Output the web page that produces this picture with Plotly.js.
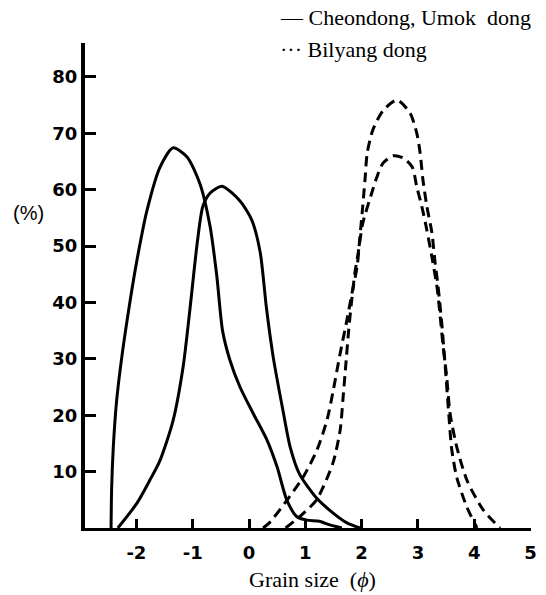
<!DOCTYPE html>
<html>
<head>
<meta charset="utf-8">
<script src="https://cdn.plot.ly/plotly-3.0.1.min.js"></script>
<style>html,body{margin:0;padding:0;background:#fff;}</style>
</head>
<body>
<div id="chart" style="width:546px;height:595px;"></div>
<script>
// Cheondong / Umok dong (solid) — two samples
const cheondongX = [-2.45, -2.44, -2.41, -2.35, -2.25, -2.11, -1.99, -1.81, -1.58, -1.35, -1.1, -0.87, -0.69, -0.57, -0.47, -0.34, -0.16, 0.07, 0.32, 0.5, 0.67, 0.85, 1.03, 1.25, 1.45, 1.65];
const cheondongY = [0, 7, 14.4, 22.7, 31, 40.4, 47.5, 56.4, 64, 67.4, 65.8, 61, 53.4, 44.5, 35, 29.8, 25, 20.4, 15.6, 10.8, 5, 2, 1.4, 1.2, 0.5, 0];
const umokX = [-2.33, -1.99, -1.76, -1.58, -1.35, -1.17, -1.05, -0.92, -0.82, -0.69, -0.48, -0.16, 0.05, 0.2, 0.31, 0.43, 0.6, 0.73, 0.9, 1.2, 1.5, 1.74, 1.97];
const umokY = [0, 4.4, 8.5, 12, 19, 28.6, 38.7, 50.5, 57, 59.4, 60.6, 58, 54.6, 48.8, 39, 30.3, 21, 14.4, 9.5, 5.3, 2.6, 0.9, 0];
// Bilyang dong (dashed) — two samples
const bilyangAX = [0.25, 0.37, 0.68, 0.96, 1.21, 1.39, 1.5, 1.62, 1.74, 1.83, 1.92, 1.97, 2.02, 2.06, 2.1, 2.2, 2.38, 2.63, 2.86, 2.98, 3.04, 3.09, 3.16, 3.25, 3.3, 3.36, 3.43, 3.49, 3.55, 3.6, 3.69, 3.87, 4.05];
const bilyangAY = [0, 1, 5, 9, 13.9, 19.3, 24.6, 31, 36.9, 41.7, 46.3, 51.6, 57, 61.7, 66.5, 70.6, 74, 75.9, 73.6, 70, 66.5, 61.7, 57, 52.3, 47.5, 42.7, 35.6, 28, 20, 14, 9, 3.7, 0];
const bilyangBX = [0.65, 0.9, 1.2, 1.49, 1.62, 1.67, 1.72, 1.77, 1.82, 1.88, 1.94, 2.02, 2.18, 2.27, 2.38, 2.56, 2.74, 2.9, 2.98, 3.07, 3.16, 3.25, 3.34, 3.39, 3.45, 3.51, 3.57, 3.69, 3.87, 4.16, 4.46];
const bilyangBY = [0, 2, 5, 11.5, 17.4, 23, 29, 35, 40, 45.2, 48.8, 54, 59.4, 62.2, 64.7, 66, 65.6, 64, 60.5, 57, 52.8, 48, 42.7, 38.1, 32, 27, 20.4, 14.4, 8.5, 3.2, 0];

const xTicks = [-2, -1, 0, 1, 2, 3, 4, 5];
const xTickText = ["-2", "-1", "0", "1", "2", "3", "4", "5"];
const yTicks = [10, 20, 30, 40, 50, 60, 70, 80];
const yTickText = ["10", "20", "30", "40", "50", "60", "70", "80"];

const solid = {color: '#000', width: 3, shape: 'spline', smoothing: 0.7};
const dashed = {color: '#000', width: 3, shape: 'spline', smoothing: 0.7, dash: '10px,6px'};

const traces = [
  {x: cheondongX, y: cheondongY, mode: 'lines', line: solid, hoverinfo: 'skip'},
  {x: umokX, y: umokY, mode: 'lines', line: solid, hoverinfo: 'skip'},
  {x: bilyangAX, y: bilyangAY, mode: 'lines', line: dashed, hoverinfo: 'skip'},
  {x: bilyangBX, y: bilyangBY, mode: 'lines', line: dashed, hoverinfo: 'skip'}
];

const tickFont = {family: 'DejaVu Sans', size: 18, color: '#000', weight: 'bold'};
const serif = {family: '"Liberation Serif", "DejaVu Serif", serif', size: 22, color: '#000'};

const layout = {
  width: 546, height: 595,
  margin: {l: 85, r: 15, t: 43, b: 67},
  paper_bgcolor: '#fff', plot_bgcolor: '#fff',
  showlegend: false,
  xaxis: {
    range: [-2.913, 5.009], showgrid: false, zeroline: false,
    showline: true, linecolor: '#000', linewidth: 3,
    ticks: 'inside', ticklen: 9, tickwidth: 3, tickcolor: '#000',
    tickvals: xTicks, ticktext: xTickText, tickfont: tickFont,
    ticklabelstandoff: 6
  },
  yaxis: {
    range: [0, 86], showgrid: false, zeroline: false,
    showline: true, linecolor: '#000', linewidth: 4,
    ticks: 'inside', ticklen: 11, tickwidth: 3, tickcolor: '#000',
    tickvals: yTicks, ticktext: yTickText, tickfont: tickFont,
    ticklabelstandoff: 0
  },
  annotations: [
    {xref: 'paper', yref: 'paper', x: 0.4327, y: 1.0536, xanchor: 'left', yanchor: 'middle',
     text: '— Cheondong, Umok  dong', showarrow: false, font: serif},
    {xref: 'paper', yref: 'paper', x: 0.4327, y: 0.9856, xanchor: 'left', yanchor: 'middle',
     text: '··· Bilyang dong', showarrow: false, font: serif},
    {xref: 'paper', yref: 'paper', x: -0.1256, y: 0.6495, xanchor: 'center', yanchor: 'middle',
     text: '(%)', showarrow: false, font: {family: 'Liberation Sans', size: 20, color: '#000'}},
    {xref: 'paper', yref: 'paper', x: 0.511, y: -0.107, xanchor: 'center', yanchor: 'middle',
     text: 'Grain size  (<i>ϕ</i>)', showarrow: false, font: serif}
  ]
};

Plotly.newPlot('chart', traces, layout, {displayModeBar: false, staticPlot: true});
</script>
</body>
</html>
